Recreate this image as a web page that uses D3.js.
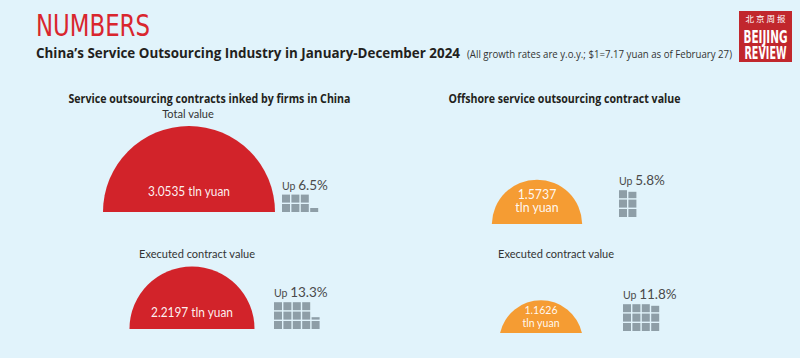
<!DOCTYPE html>
<html>
<head>
<meta charset="utf-8">
<script src="https://cdn.jsdelivr.net/npm/d3@7"></script>
<style>
  body { margin: 0; background: #e1f3fb; }
  svg { display: block; }
</style>
</head>
<body>
<script>
// ---- data ----
const groups = ["inked", "offshore"];
const groupTitles = ["Service outsourcing contracts inked by firms in China", "Offshore service outsourcing contract value"];
const rowKeys = ["total", "executed"];
const itemGroups = ["inked", "inked", "offshore", "offshore"];
const itemRows = ["total", "executed", "total", "executed"];
const itemLabels = ["Total value", "Executed contract value", "", "Executed contract value"];
const values = [3.0535, 2.2197, 1.5737, 1.1626]; // trillion yuan
const growth = [6.5, 13.3, 5.8, 11.8]; // % y.o.y.

// ---- layout tweaks (kept apart from the data) ----
const blockRows = [2, 3, 3, 3];
const domeRatio = [1, 1, 1.02, 1.25]; // half chord / dome height
const nudge = [[-1, 0], [2, -1], [-2, 12], [2, 3]];
const blockLift = [0, 0, 7, 2];
const labelShift = [-1, 5, 0, 15];
const valueFont = [13.5, 13.5, 14, 12];

const W = 800, H = 358;
const colors = { inked: "#d2232a", offshore: "#f59c33" };
const block = { size: 8, pitch: 9.4 };

const svg = d3.select("body").append("svg").attr("width", W).attr("height", H);
svg.append("rect").attr("width", W).attr("height", H).attr("fill", "#e1f3fb");

// header
svg.append("text")
  .attr("x", 36).attr("y", 36)
  .attr("font-family", "'Liberation Sans Narrow', 'DejaVu Sans Condensed', sans-serif")
  .attr("font-size", 31)
  .attr("textLength", 114).attr("lengthAdjust", "spacingAndGlyphs")
  .attr("fill", "#d9262e")
  .text("NUMBERS");

svg.append("text")
  .attr("x", 36).attr("y", 57.5)
  .attr("font-family", "'Open Sans', sans-serif")
  .attr("font-weight", 700).attr("font-size", 13.5)
  .attr("textLength", 424).attr("lengthAdjust", "spacingAndGlyphs")
  .attr("fill", "#231f20")
  .text("China\u2019s Service Outsourcing Industry in January-December 2024");

svg.append("text")
  .attr("x", 467).attr("y", 57.5)
  .attr("font-family", "'Open Sans', sans-serif")
  .attr("font-size", 11)
  .attr("textLength", 265).attr("lengthAdjust", "spacingAndGlyphs")
  .attr("fill", "#333")
  .text("(All growth rates are y.o.y.; $1=7.17 yuan as of February 27)");

// logo
const logo = svg.append("g").attr("transform", "translate(739,11)");
logo.append("rect").attr("width", 53).attr("height", 51).attr("fill", "#c1272d");
logo.append("text")
  .attr("x", 26.5).attr("y", 11).attr("text-anchor", "middle")
  .attr("font-family", "'Noto Sans CJK SC', sans-serif")
  .attr("font-size", 8.5).attr("fill", "#fff")
  .attr("textLength", 40).attr("lengthAdjust", "spacing")
  .text("北京周报");
logo.selectAll("text.word")
  .data(["BEIJING", "REVIEW"])
  .join("text")
  .attr("class", "word")
  .attr("x", 26.5).attr("y", (d, i) => 31.5 + i * 16.5)
  .attr("text-anchor", "middle")
  .attr("font-family", "'Liberation Sans Narrow', 'DejaVu Sans Condensed', sans-serif")
  .attr("font-weight", 700).attr("font-size", 18.5)
  .attr("textLength", (d, i) => (i ? 42 : 44)).attr("lengthAdjust", "spacingAndGlyphs")
  .attr("fill", "#fff")
  .text((d) => d);

// scales
const x = d3.scalePoint().domain(groups).range([190, 539]);
const y = d3.scalePoint().domain(rowKeys).range([212, 330]);
const hScale = d3.scaleLinear().domain([0, d3.max(values)]).range([0, 86]);
const fmt = d3.format(".4f");

// group titles
svg.selectAll("text.group-title")
  .data(groups)
  .join("text")
  .attr("class", "group-title")
  .attr("x", (d, i) => (i ? 448.5 : 68.5)).attr("y", 103)
  .attr("font-family", "'Open Sans', sans-serif")
  .attr("font-weight", 700).attr("font-size", 12)
  .attr("textLength", (d, i) => (i ? 232 : 282)).attr("lengthAdjust", "spacingAndGlyphs")
  .attr("fill", "#231f20")
  .text((d, i) => groupTitles[i]);

const items = values.map((v, i) => {
  const h = hScale(v);
  const half = h * domeRatio[i];
  const R = (half * half + h * h) / (2 * h);
  const cx = x(itemGroups[i]) + nudge[i][0];
  const by = y(itemRows[i]) + nudge[i][1];
  return {
    i, value: v, growth: growth[i], group: itemGroups[i], row: itemRows[i], label: itemLabels[i],
    R, d: R - h, cx, by, half, h,
    bx: Math.max(cx + half + 7, cx + 82),
    bBottom: by - blockLift[i],
    rows: blockRows[i]
  };
});

// circular segment sitting on the baseline
function domePath(o) {
  const p = d3.path();
  const cy = o.by + o.d;
  p.moveTo(o.cx - o.half, o.by);
  p.arc(o.cx, cy, o.R, Math.atan2(o.by - cy, -o.half), Math.atan2(o.by - cy, o.half), false);
  p.closePath();
  return p.toString();
}

// squeeze a text a little, the original uses a condensed face
function condense(sel, k) {
  sel.each(function () {
    const n = this.getComputedTextLength();
    if (n > 0) d3.select(this).attr("textLength", n * k).attr("lengthAdjust", "spacingAndGlyphs");
  });
}

// row labels sit at the same height across a row
const labelY = {};
rowKeys.forEach((k) => {
  labelY[k] = d3.min(items.filter((o) => o.row === k), (o) => o.by - o.h - 8);
});

const g = svg.selectAll("g.item").data(items).join("g").attr("class", "item");

g.append("text")
  .attr("x", (o) => o.cx + labelShift[o.i])
  .attr("y", (o) => labelY[o.row])
  .attr("text-anchor", "middle")
  .attr("font-family", "Lato, sans-serif")
  .attr("font-size", 11.5)
  .attr("fill", "#333")
  .text((o) => o.label)
  .call(condense, 0.96);

g.append("path")
  .attr("d", domePath)
  .attr("fill", (o) => colors[o.group]);

// value labels inside domes
g.each(function (o) {
  const lines = o.group === "inked" ? [fmt(o.value) + " tln yuan"] : [fmt(o.value), "tln yuan"];
  const fs = valueFont[o.i];
  const first = lines.length > 1 ? o.by - o.h / 2 - 3 : o.by - 0.16 * o.h - 2;
  d3.select(this).selectAll("text.val")
    .data(lines)
    .join("text")
    .attr("class", "val")
    .attr("x", o.cx).attr("y", (d, k) => first + k * 13.5)
    .attr("text-anchor", "middle")
    .attr("font-family", "Lato, sans-serif")
    .attr("font-size", fs)
    .attr("fill", "#fff").attr("fill-opacity", 0.95)
    .text((d) => d)
    .call(condense, 0.88);
});

// unit blocks: one square per percentage point, partial for the fraction
g.each(function (o) {
  const full = Math.floor(o.growth + 1e-9);
  const frac = o.growth - full;
  const cells = d3.range(full).map((k) => ({ k, f: 1 }));
  if (frac > 0.001) cells.push({ k: full, f: frac });
  d3.select(this).selectAll("rect.blk")
    .data(cells)
    .join("rect")
    .attr("class", "blk")
    .attr("x", (c) => o.bx + Math.floor(c.k / o.rows) * block.pitch)
    .attr("y", (c) => o.bBottom - (c.k % o.rows) * block.pitch - c.f * block.size)
    .attr("width", block.size)
    .attr("height", (c) => c.f * block.size)
    .attr("fill", "#8e9ea7");

  const top = o.bBottom - o.rows * block.pitch + (block.pitch - block.size);
  const t = d3.select(this).append("text")
    .attr("x", o.bx).attr("y", top - 5)
    .attr("font-family", "Lato, sans-serif")
    .attr("fill", "#4a4a4a");
  t.append("tspan").attr("font-size", 10.5).text("Up ");
  t.append("tspan").attr("font-size", 13.5).text(d3.format(".1f")(o.growth) + "%");
});
</script>
</body>
</html>
